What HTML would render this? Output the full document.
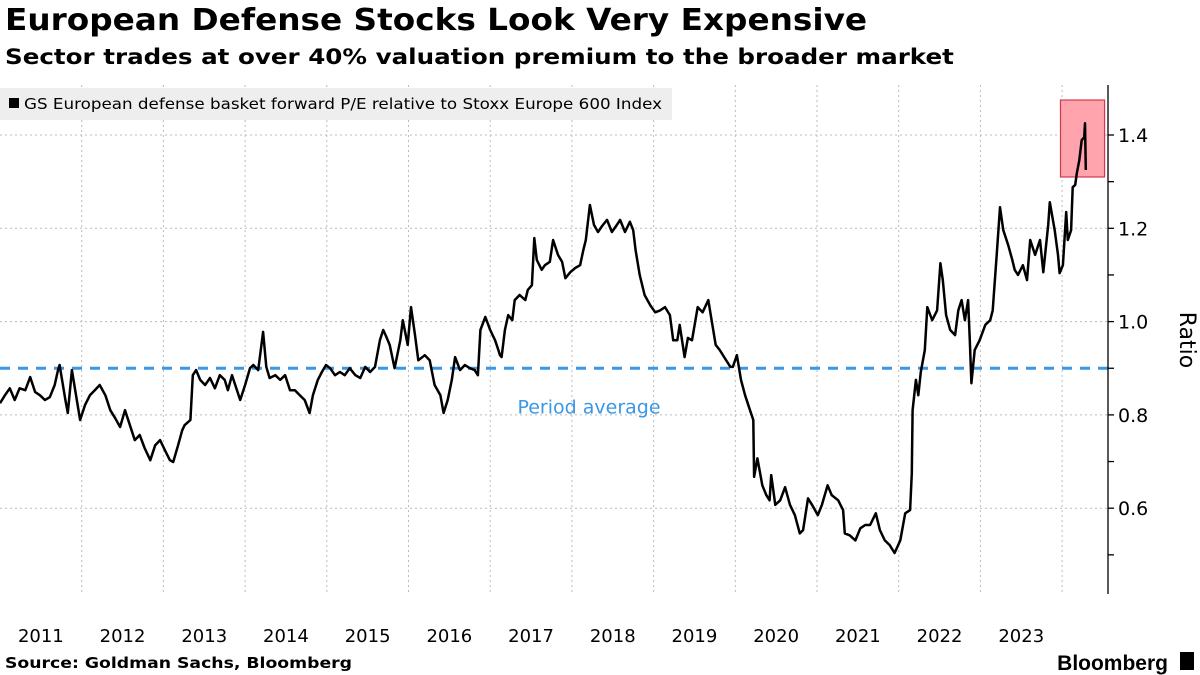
<!DOCTYPE html>
<html><head><meta charset="utf-8">
<style>
body{margin:0;background:#fff;width:1200px;height:675px;overflow:hidden;font-family:"DejaVu Sans","Liberation Sans",sans-serif;}
#title{position:absolute;left:5px;top:3px;font-weight:bold;font-size:30px;color:#000;white-space:nowrap;transform:scaleX(1.09);transform-origin:0 0;}
#sub{position:absolute;left:5px;top:45px;font-weight:bold;font-size:21px;color:#000;white-space:nowrap;transform:scaleX(1.17);transform-origin:0 0;}
svg{position:absolute;left:0;top:0;}
</style></head><body>
<div id="title">European Defense Stocks Look Very Expensive</div>
<div id="sub">Sector trades at over 40% valuation premium to the broader market</div>
<svg id="chart" width="1200" height="675"></svg>
<script>
const yearTicks=[2011,2012,2013,2014,2015,2016,2017,2018,2019,2020,2021,2022,2023];
const yTicks=[0.6,0.8,1.0,1.2,1.4];
const periodAverage=0.9;
const dates=[2011.00,2011.06,2011.12,2011.18,2011.24,2011.31,2011.37,2011.43,2011.49,2011.55,2011.61,2011.67,2011.71,2011.73,2011.80,2011.83,2011.88,2011.98,2012.04,2012.10,2012.16,2012.22,2012.29,2012.35,2012.41,2012.47,2012.53,2012.59,2012.65,2012.71,2012.77,2012.84,2012.90,2012.96,2013.02,2013.08,2013.12,2013.18,2013.23,2013.26,2013.33,2013.36,2013.40,2013.45,2013.51,2013.57,2013.63,2013.69,2013.75,2013.79,2013.84,2013.94,2014.00,2014.06,2014.10,2014.16,2014.22,2014.26,2014.30,2014.37,2014.43,2014.49,2014.55,2014.61,2014.67,2014.73,2014.79,2014.83,2014.89,2014.94,2014.99,2015.04,2015.10,2015.16,2015.22,2015.28,2015.35,2015.41,2015.47,2015.53,2015.59,2015.65,2015.69,2015.72,2015.77,2015.83,2015.90,2015.93,2015.99,2016.03,2016.08,2016.12,2016.20,2016.26,2016.32,2016.39,2016.43,2016.48,2016.53,2016.57,2016.63,2016.69,2016.75,2016.81,2016.85,2016.88,2016.94,2017.00,2017.06,2017.10,2017.12,2017.14,2017.18,2017.22,2017.27,2017.30,2017.36,2017.43,2017.46,2017.51,2017.54,2017.57,2017.63,2017.67,2017.73,2017.77,2017.83,2017.88,2017.92,2017.98,2018.04,2018.10,2018.14,2018.17,2018.22,2018.27,2018.32,2018.37,2018.43,2018.49,2018.55,2018.59,2018.65,2018.71,2018.75,2018.78,2018.83,2018.89,2018.96,2019.02,2019.08,2019.14,2019.20,2019.24,2019.29,2019.32,2019.38,2019.42,2019.47,2019.54,2019.60,2019.67,2019.71,2019.76,2019.81,2019.87,2019.94,2019.97,2020.02,2020.07,2020.12,2020.18,2020.22,2020.23,2020.27,2020.33,2020.38,2020.42,2020.44,2020.49,2020.55,2020.61,2020.67,2020.73,2020.79,2020.83,2020.89,2020.94,2021.01,2021.06,2021.13,2021.18,2021.26,2021.32,2021.34,2021.40,2021.47,2021.53,2021.59,2021.65,2021.72,2021.77,2021.83,2021.89,2021.95,2022.02,2022.08,2022.14,2022.16,2022.17,2022.21,2022.24,2022.27,2022.32,2022.35,2022.41,2022.47,2022.51,2022.54,2022.58,2022.63,2022.69,2022.73,2022.77,2022.81,2022.85,2022.87,2022.89,2022.93,2022.99,2023.06,2023.12,2023.15,2023.20,2023.24,2023.28,2023.34,2023.39,2023.42,2023.46,2023.52,2023.57,2023.61,2023.67,2023.73,2023.77,2023.83,2023.85,2023.91,2023.95,2023.97,2024.01,2024.05,2024.07,2024.11,2024.13,2024.16,2024.18,2024.21,2024.24,2024.27,2024.28,2024.29];
const ratios=[0.825,0.842,0.857,0.832,0.857,0.853,0.881,0.849,0.842,0.832,0.838,0.864,0.896,0.907,0.832,0.804,0.896,0.789,0.821,0.842,0.853,0.864,0.842,0.810,0.793,0.774,0.810,0.778,0.746,0.757,0.729,0.703,0.735,0.746,0.724,0.703,0.699,0.735,0.767,0.778,0.789,0.885,0.896,0.875,0.864,0.879,0.857,0.885,0.875,0.853,0.885,0.832,0.864,0.900,0.907,0.896,0.978,0.903,0.879,0.885,0.875,0.885,0.853,0.853,0.842,0.832,0.804,0.842,0.875,0.892,0.907,0.900,0.885,0.892,0.885,0.900,0.885,0.879,0.903,0.892,0.903,0.960,0.982,0.971,0.950,0.900,0.960,1.003,0.950,1.031,0.971,0.917,0.928,0.917,0.864,0.842,0.804,0.832,0.875,0.924,0.896,0.907,0.900,0.896,0.885,0.982,1.010,0.982,0.960,0.939,0.928,0.924,0.982,1.014,1.003,1.046,1.057,1.046,1.068,1.078,1.179,1.132,1.111,1.121,1.128,1.175,1.143,1.128,1.093,1.106,1.115,1.121,1.153,1.175,1.250,1.207,1.192,1.205,1.218,1.192,1.207,1.218,1.192,1.214,1.196,1.153,1.100,1.057,1.035,1.020,1.024,1.031,1.014,0.960,0.960,0.993,0.924,0.965,0.960,1.031,1.020,1.046,1.003,0.950,0.939,0.922,0.903,0.903,0.928,0.875,0.842,0.810,0.789,0.667,0.707,0.649,0.628,0.617,0.671,0.607,0.617,0.645,0.607,0.585,0.546,0.553,0.621,0.607,0.585,0.607,0.649,0.628,0.617,0.596,0.546,0.542,0.531,0.557,0.564,0.564,0.589,0.553,0.531,0.521,0.504,0.531,0.589,0.596,0.675,0.810,0.875,0.842,0.892,0.939,1.031,1.003,1.024,1.125,1.089,1.014,0.982,0.971,1.024,1.046,1.003,1.046,0.960,0.868,0.939,0.960,0.993,1.003,1.024,1.143,1.245,1.196,1.164,1.132,1.111,1.100,1.121,1.089,1.175,1.143,1.175,1.106,1.207,1.256,1.196,1.143,1.104,1.121,1.235,1.175,1.196,1.288,1.293,1.318,1.346,1.389,1.395,1.425,1.325];
const highlightRange=[2023.98,2024.52,1.31,1.475];

const NS="http://www.w3.org/2000/svg";
const svg=document.getElementById('chart');
const X0=0,YEARW=81.7,AXISX=1108,PTOP=85,PBOT=594;
const FF='DejaVu Sans, Liberation Sans, sans-serif';
function xs(t){return X0+(t-2011)*YEARW;}
function ys(v){return 135+(1.4-v)*466.5;}
function mk(tag,attrs,parent){const e=document.createElementNS(NS,tag);for(const k in attrs)e.setAttribute(k,attrs[k]);(parent||svg).appendChild(e);return e;}

yTicks.forEach(v=>{
  const g=mk('line',{x1:0,x2:AXISX,y1:ys(v),y2:ys(v),stroke:'#bbb','stroke-width':1,'stroke-dasharray':'2,3'});
  
  
});
yearTicks.concat([2024]).forEach(y=>{
  if(y===2011)return;
  const g=mk('line',{x1:xs(y),x2:xs(y),y1:PTOP,y2:PBOT,stroke:'#bbb','stroke-width':1,'stroke-dasharray':'2,3'});
  
  
});
const lg=mk('g',{});


mk('rect',{x:0,y:88,width:672,height:32,fill:'#eeeeee'},lg);
mk('rect',{x:9,y:98,width:10,height:10,fill:'#000'},lg);
const lt=mk('text',{x:24,y:109,'font-size':15,fill:'#000','font-family':FF,textLength:638,lengthAdjust:'spacingAndGlyphs'},lg);
lt.textContent='GS European defense basket forward P/E relative to Stoxx Europe 600 Index';
const hb=mk('rect',{x:xs(highlightRange[0]),y:ys(highlightRange[3]),width:xs(highlightRange[1])-xs(highlightRange[0]),height:ys(highlightRange[2])-ys(highlightRange[3]),fill:'#ffa3ad',stroke:'#d4384f','stroke-width':1.2});


const av=mk('line',{x1:0,x2:AXISX,y1:ys(periodAverage),y2:ys(periodAverage),stroke:'#3a97e6','stroke-width':3,'stroke-dasharray':'10,8'});


const at=mk('text',{x:589,y:ys(periodAverage)+45,'font-size':19,fill:'#3a97e6','text-anchor':'middle','font-family':FF});
at.textContent='Period average';


let d='';
dates.forEach((t,i)=>{d+=(i?'L':'M')+xs(t).toFixed(1)+','+ys(ratios[i]).toFixed(1);});
const ln=mk('path',{d:d,fill:'none',stroke:'#000','stroke-width':2.5,'stroke-linejoin':'round'});


const ax=mk('line',{x1:AXISX,x2:AXISX,y1:PTOP,y2:PBOT,stroke:'#000','stroke-width':1.3});


for(let v=0.5;v<=1.45;v+=0.1){
  const tk=mk('line',{x1:AXISX,x2:AXISX+6,y1:ys(v),y2:ys(v),stroke:'#000','stroke-width':1.3});
  
  
}
yTicks.forEach(v=>{
  const t=mk('text',{x:1118,y:ys(v)+7,'font-size':19,fill:'#000','font-family':FF});
  t.textContent=v.toFixed(1);
  
  
});
const rt=mk('text',{x:1180,y:340,'font-size':22,fill:'#000','text-anchor':'middle',transform:'rotate(90 1180 340)','font-family':FF});
rt.textContent='Ratio';


yearTicks.forEach(y=>{
  const t=mk('text',{x:xs(y+0.5),y:642,'font-size':18,fill:'#000','text-anchor':'middle','font-family':FF});
  t.textContent=y;
  
  
});
const src=mk('text',{x:5,y:668,'font-size':15,'font-weight':'bold',fill:'#000','font-family':FF,textLength:347,lengthAdjust:'spacingAndGlyphs'});
src.textContent='Source: Goldman Sachs, Bloomberg';


const bb=mk('text',{x:1168,y:670,'font-size':21,'font-weight':'bold',fill:'#000','text-anchor':'end','font-family':'Liberation Sans, sans-serif'});
bb.textContent='Bloomberg';


const bi=mk('rect',{x:1180,y:652,width:14,height:18,fill:'#000'});


</script>
</body></html>
